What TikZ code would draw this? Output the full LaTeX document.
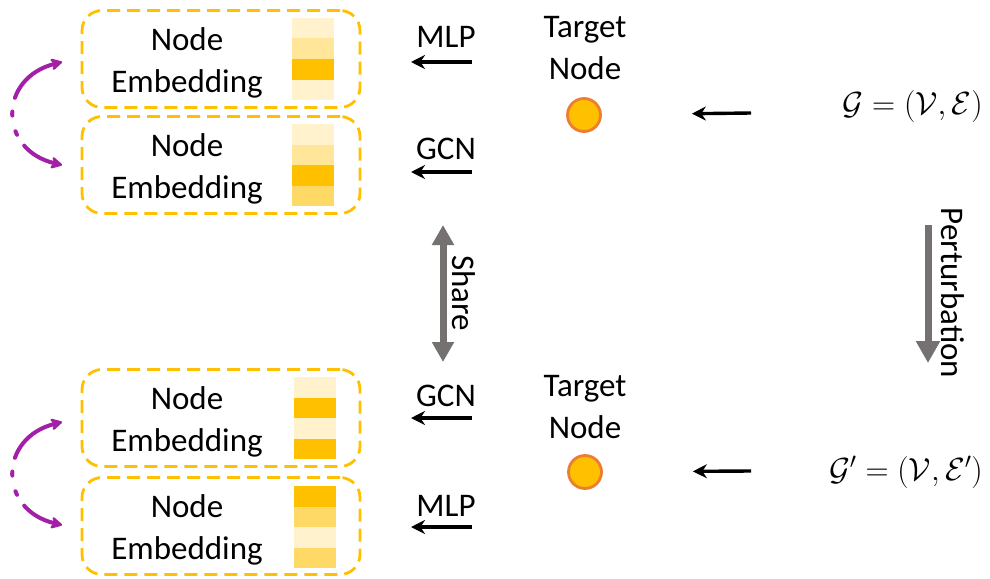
\RequirePackage{fix-cm}
\documentclass[tikz,border=0pt]{standalone}
\usepackage{fontspec}
\setmainfont{Carlito}
\usetikzlibrary{arrows.meta}
\definecolor{gold}{HTML}{FFC000}
\definecolor{ylA}{HTML}{FFF2CC}
\definecolor{ylB}{HTML}{FFE699}
\definecolor{ylC}{HTML}{FFD966}
\definecolor{orangeb}{HTML}{ED7D31}
\definecolor{mag}{HTML}{A41FA8}
\definecolor{grayarr}{HTML}{767171}
\newcommand\embbar[6]{% x, ytop, c1..c4
  \fill[#3] (#1,#2) rectangle ++(42,20.5);
  \fill[#4] (#1,#2+20.5) rectangle ++(42,20.5);
  \fill[#5] (#1,#2+41) rectangle ++(42,20.5);
  \fill[#6] (#1,#2+61.5) rectangle ++(42,20.5);
}
\begin{document}
\begin{tikzpicture}[x=1pt,y=-1pt,
  embbox/.style={draw=gold, dashed, dash pattern=on 13pt off 7pt, line width=2.8pt,
    rounded corners=20pt, fill=white, minimum width=278pt, minimum height=97pt, inner sep=0pt},
  lbl/.style={font=\fontsize{33}{42}\selectfont, align=center, inner sep=0pt},
  mathlbl/.style={font=\fontsize{32}{38}\selectfont, inner sep=0pt, anchor=east},
  blk/.style={-{Stealth[length=14pt,width=14pt]}, line width=3.4pt, black},
  tgt/.style={circle, fill=gold, draw=orangeb, line width=2.8pt, minimum size=33pt, inner sep=0pt},
  grayline/.style={grayarr, line width=7pt},
  magarc/.style={mag, line width=4pt, line cap=round,
    dash pattern=on 36pt off 13pt on 4pt off 16pt on 4pt off 14pt on 90pt,
    {Stealth[length=14pt,width=15pt,round]}-{Stealth[length=14pt,width=15pt,round]}}
]
\useasboundingbox (0,0) rectangle (990,578);

% embedding boxes
\node[embbox] (b1) at (221,59) {};
\node[embbox] (b2) at (221,165) {};
\node[embbox] (b3) at (221,418) {};
\node[embbox] (b4) at (221,526) {};

\node[lbl] (e1) at (187,63) {Node\\Embedding};
\node[lbl] (e2) at (187,169) {Node\\Embedding};
\node[lbl] (e3) at (187,422) {Node\\Embedding};
\node[lbl] (e4) at (187,530) {Node\\Embedding};

\embbar{292}{18}{ylA}{ylB}{gold}{ylA}
\embbar{292}{124}{ylA}{ylB}{gold}{ylC}
\embbar{294}{377}{ylA}{gold}{ylA}{gold}
\embbar{294}{486}{gold}{ylC}{ylA}{ylC}

% purple arcs
\coordinate (p1a) at (62,165);
\coordinate (p1b) at (62,62);
\coordinate (p2a) at (62,525);
\coordinate (p2b) at (62,422);
\draw[magarc] (p1a) .. controls (-2,150) and (-2,78) .. (p1b);
\draw[magarc] (p2a) .. controls (-2,510) and (-2,438) .. (p2b);

% target nodes
\node[lbl] (t1) at (585,48) {Target\\Node};
\node[tgt] (c1) at (584,115) {};
\node[lbl] (t2) at (585,407) {Target\\Node};
\node[tgt] (c2) at (585,472) {};

% graphs
\node[mathlbl] (g1) at (983,106) {$\mathcal{G}=(\mathcal{V},\mathcal{E})$};
\node[mathlbl] (g2) at (983,472) {$\mathcal{G}'=(\mathcal{V},\mathcal{E}')$};

\coordinate (gs1) at (751,113);
\coordinate (gs2) at (751,471);
\draw[blk, shorten >=90pt] (gs1) -- (c1);
\draw[blk, shorten >=90pt] (gs2) -- (c2);

% MLP / GCN arrows
\coordinate (a1s) at (472,62);  \coordinate (a1e) at (411,62);
\coordinate (a2s) at (472,172); \coordinate (a2e) at (411,172);
\coordinate (a3s) at (472,418); \coordinate (a3e) at (411,418);
\coordinate (a4s) at (472,527); \coordinate (a4e) at (411,527);
\draw[blk] (a1s) -- (a1e);
\draw[blk] (a2s) -- (a2e);
\draw[blk] (a3s) -- (a3e);
\draw[blk] (a4s) -- (a4e);
\node[lbl] (l1) at (446,37) {MLP};
\node[lbl] (l2) at (446,149) {GCN};
\node[lbl] (l3) at (446,396) {GCN};
\node[lbl] (l4) at (446,506) {MLP};

% share
\coordinate (s1) at (443,225);
\coordinate (s2) at (443,362);
\draw[grayline, {Triangle[length=20pt,width=21pt]}-{Triangle[length=20pt,width=21pt]}] (s1) -- (s2);
\node[lbl, rotate=-90] (share) at (464,293) {Share};

% perturbation
\coordinate (q1) at (928,225);
\coordinate (q2) at (928,363);
\draw[grayline, -{Triangle[length=22pt,width=23pt]}] (q1) -- (q2);
\node[lbl, rotate=-90] (pert) at (953,293) {Perturbation};
\end{tikzpicture}
\end{document}
